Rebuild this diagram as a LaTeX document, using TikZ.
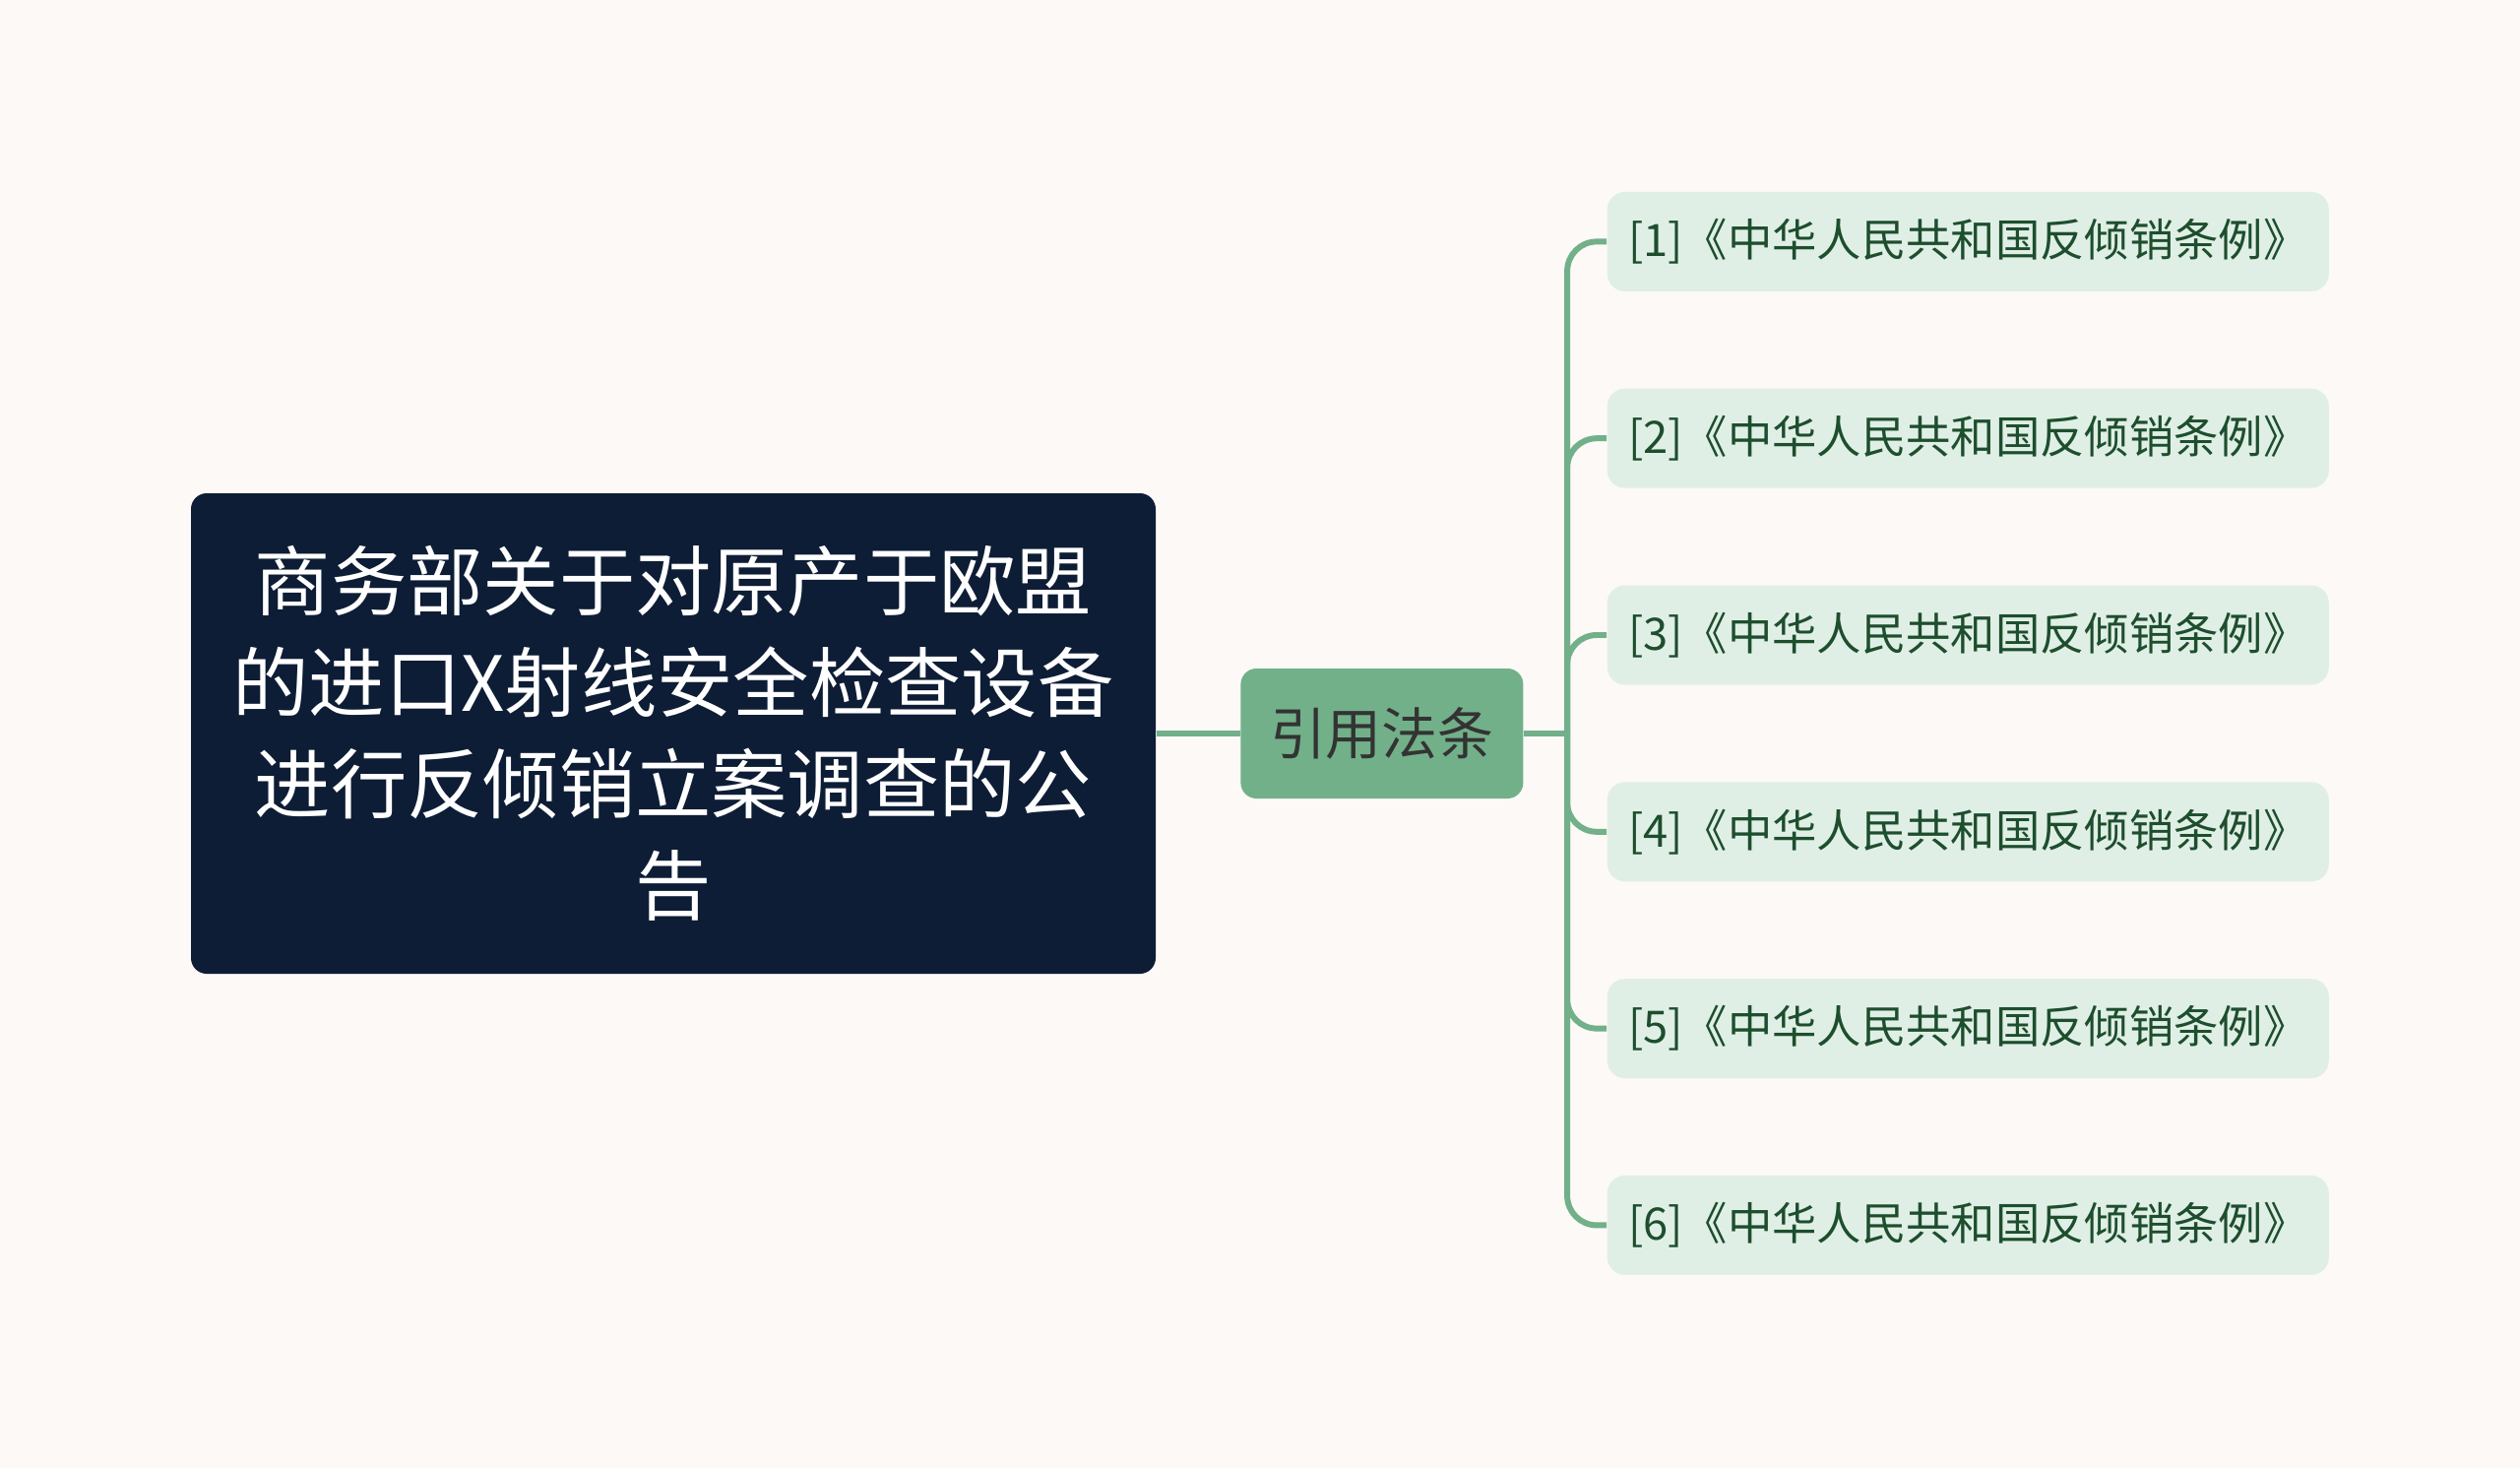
\documentclass[tikz,border=0pt]{standalone}
\usepackage{fontspec}
\setmainfont{Noto Sans CJK SC}
\usetikzlibrary{positioning}

\definecolor{bgcream}{HTML}{FCF9F7}
\definecolor{rootnavy}{HTML}{0E1D36}
\definecolor{linkgreen}{HTML}{72B08A}
\definecolor{leaffill}{HTML}{E0EFE5}
\definecolor{leaftext}{HTML}{1D4E2E}
\definecolor{midtext}{HTML}{333333}

\tikzset{
  rootbox/.style={fill=rootnavy, text=white, rounded corners=1.6mm,
    minimum width=98mm, minimum height=48.8mm, align=center,
    font=\fontsize{22pt}{29.3pt}\selectfont},
  topic/.style={fill=linkgreen, text=midtext, rounded corners=1.6mm,
    minimum width=28.7mm, minimum height=13.2mm,
    font=\fontsize{16.2pt}{19pt}\selectfont},
  law/.style={fill=leaffill, text=leaftext, rounded corners=1.8mm,
    minimum width=73.3mm, minimum height=10.1mm, inner sep=1mm,
    font=\fontsize{12.9pt}{14pt}\selectfont},
  link/.style={draw=linkgreen, line width=1.7pt, rounded corners=3mm},
}

\begin{document}
\begin{tikzpicture}[x=0.1mm,y=-0.1mm]
\fill[bgcream] (0,0) rectangle (2560,1491);

\node[rootbox] (root) at (684,745) {商务部关于对原产于欧盟\\的进口X射线安全检查设备\\进行反倾销立案调查的公\\告};
\node[topic] (cite) [right=8.5mm of root] {引用法条};

\node[law] (law3) [right=8.4mm of cite, yshift=10mm] {[3]《中华人民共和国反倾销条例》};
\node[law] (law2) [above=9.74mm of law3] {[2]《中华人民共和国反倾销条例》};
\node[law] (law1) [above=9.74mm of law2] {[1]《中华人民共和国反倾销条例》};
\node[law] (law4) [below=9.74mm of law3] {[4]《中华人民共和国反倾销条例》};
\node[law] (law5) [below=9.74mm of law4] {[5]《中华人民共和国反倾销条例》};
\node[law] (law6) [below=9.74mm of law5] {[6]《中华人民共和国反倾销条例》};

\coordinate[right=4.4mm of cite] (trunk);

\draw[link] (root) -- (cite);
\draw[link] (cite) -- (trunk);
\draw[link] (trunk) |- (law1.west);
\draw[link] (trunk) |- (law2.west);
\draw[link] (trunk) |- (law3.west);
\draw[link] (trunk) |- (law4.west);
\draw[link] (trunk) |- (law5.west);
\draw[link] (trunk) |- (law6.west);

\end{tikzpicture}
\end{document}
